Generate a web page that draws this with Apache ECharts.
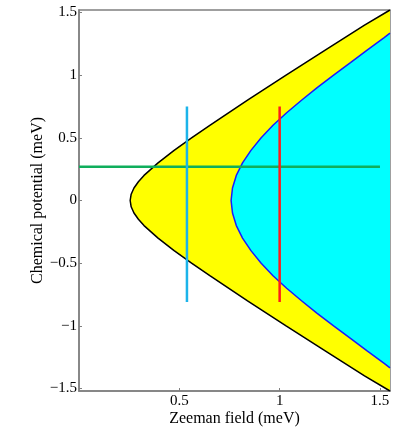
<!DOCTYPE html>
<html>
<head>
<meta charset="utf-8">
<script src="https://cdn.jsdelivr.net/npm/echarts@6/dist/echarts.min.js"></script>
<style>
  html, body { margin: 0; padding: 0; background: #fff; }
  #chart { width: 399px; height: 446px; }
</style>
</head>
<body>
<div id="chart"></div>
<script>
// outer boundary (black curve), bottom to top
const outerMu = [-1.52, -1.4, -1.2, -1.0, -0.8, -0.6, -0.5, -0.4, -0.3, -0.2, -0.15, -0.1, -0.05, 0,
                 0.05, 0.1, 0.15, 0.2, 0.3, 0.4, 0.5, 0.6, 0.8, 1.0, 1.2, 1.4, 1.52];
const outerH = [1.55, 1.423, 1.227, 1.032, 0.84, 0.652, 0.561, 0.474, 0.394, 0.324, 0.296, 0.274, 0.26, 0.255,
                0.26, 0.274, 0.296, 0.324, 0.394, 0.474, 0.561, 0.652, 0.84, 1.032, 1.227, 1.423, 1.55];

// inner boundary (blue curve)
const innerMu = [-1.335, -1.3, -1.2, -1.1, -1.0, -0.9, -0.8, -0.7, -0.6, -0.5, -0.4, -0.3, -0.2, -0.1, 0,
                 0.1, 0.2, 0.3, 0.4, 0.5, 0.6, 0.7, 0.8, 0.9, 1.0, 1.1, 1.2, 1.3, 1.335];
const innerH = [1.55, 1.521, 1.436, 1.353, 1.269, 1.187, 1.109, 1.035, 0.967, 0.908, 0.857, 0.815, 0.784, 0.765, 0.758,
                0.765, 0.784, 0.815, 0.857, 0.908, 0.967, 1.035, 1.109, 1.187, 1.269, 1.353, 1.436, 1.521, 1.55];

// cuts drawn on top
const cyanCutH = [0.538, 0.538];
const cyanCutMu = [-0.81, 0.75];
const redCutH = [1.0, 1.0];
const redCutMu = [-0.81, 0.75];
const greenCutH = [0, 1.5];
const greenCutMu = [0.27, 0.27];

const xTicks = [0.5, 1, 1.5];
const yTicks = [-1.5, -1, -0.5, 0, 0.5, 1, 1.5];

const font = 'Liberation Serif, Times New Roman, serif';

function pairs(xs, ys) {
  return xs.map((x, i) => [x, ys[i]]);
}

function fmt(v) {
  const s = String(Math.abs(v));
  return v < 0 ? '\u2212' + s : s;
}

// filled region right of a curve
function regionSeries(xs, ys, color, z) {
  return {
    type: 'custom',
    silent: true,
    data: [[xs[0], ys[0]]],
    renderItem: function (params, api) {
      const pts = xs.map((x, i) => api.coord([x, ys[i]]));
      return {
        type: 'polygon',
        shape: { points: pts },
        style: { fill: color, stroke: null }
      };
    },
    z: z
  };
}

function lineSeries(data, color, width, z) {
  return {
    type: 'line',
    data: data,
    showSymbol: false,
    symbol: 'none',
    silent: true,
    lineStyle: { color: color, width: width },
    z: z
  };
}

const chart = echarts.init(document.getElementById('chart'));
chart.setOption({
  animation: false,
  grid: {
    left: 79, top: 10, right: 9, bottom: 55,
    show: true, borderColor: '#808080', borderWidth: 1.5, backgroundColor: 'transparent'
  },
  xAxis: {
    type: 'value',
    min: 0,
    max: 1.55,
    name: 'Zeeman field (meV)',
    nameLocation: 'middle',
    nameGap: 20,
    nameMoveOverlap: false,
    nameTextStyle: { fontFamily: font, fontSize: 16, color: '#000' },
    axisLine: { show: true, onZero: false, lineStyle: { color: '#808080', width: 1.5 } },
    axisTick: { show: true, inside: true, length: 3, customValues: xTicks, lineStyle: { color: '#808080' } },
    axisLabel: {
      margin: 3,
      customValues: xTicks,
      fontFamily: font, fontSize: 15, color: '#000',
      formatter: v => fmt(v)
    },
    splitLine: { show: false }
  },
  yAxis: {
    type: 'value',
    min: -1.52,
    max: 1.52,
    name: 'Chemical potential (meV)',
    nameLocation: 'middle',
    nameGap: 33,
    nameMoveOverlap: false,
    nameTextStyle: { fontFamily: font, fontSize: 16, color: '#000' },
    axisLine: { show: true, onZero: false, lineStyle: { color: '#808080', width: 1.5 } },
    axisTick: { show: true, inside: true, length: 3, customValues: yTicks, lineStyle: { color: '#808080' } },
    axisLabel: {
      margin: 2,
      customValues: yTicks,
      fontFamily: font, fontSize: 15, color: '#000',
      formatter: v => fmt(v)
    },
    splitLine: { show: false }
  },
  series: [
    regionSeries(outerH, outerMu, '#ffff00', 1),
    regionSeries(innerH, innerMu, '#00ffff', 2),
    lineSeries(pairs(outerH, outerMu), '#000000', 1.5, 3),
    lineSeries(pairs(innerH, innerMu), '#1a1aff', 1.5, 3),
    lineSeries(pairs(greenCutH, greenCutMu), '#0fae5c', 2.5, 4),
    lineSeries(pairs(cyanCutH, cyanCutMu), '#1cb4ea', 2.5, 5),
    lineSeries(pairs(redCutH, redCutMu), '#ff1a1a', 2.5, 5)
  ]
});
</script>
</body>
</html>
